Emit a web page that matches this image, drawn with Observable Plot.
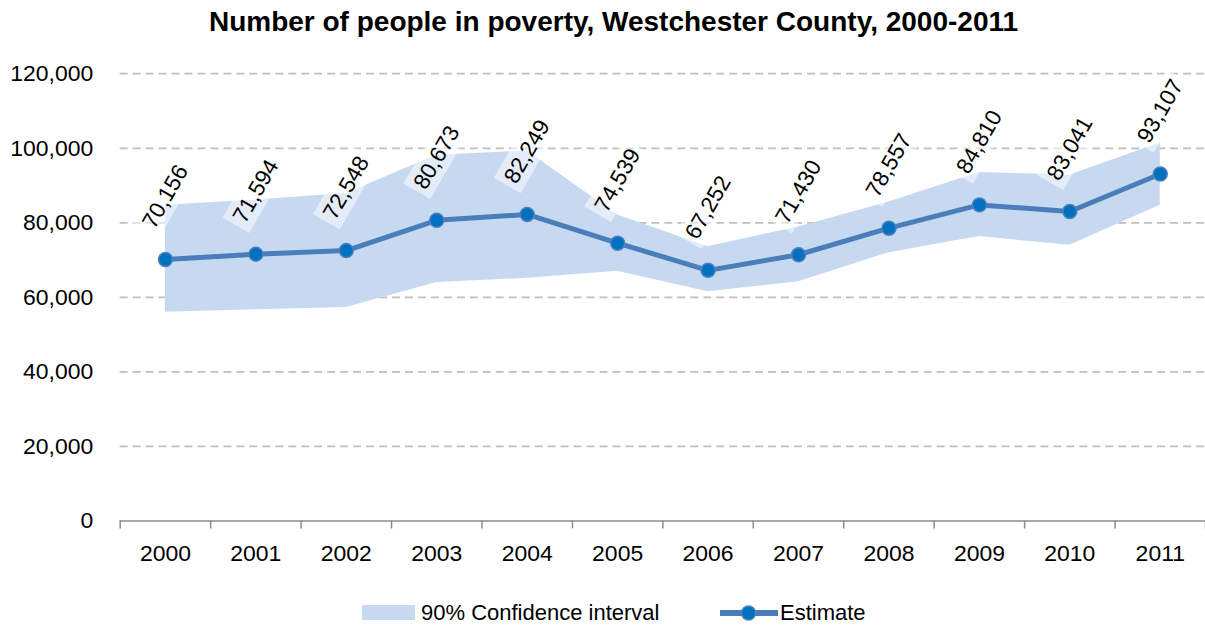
<!DOCTYPE html>
<html><head><meta charset="utf-8">
<script src="https://cdn.jsdelivr.net/npm/d3@7"></script>
<script src="https://cdn.jsdelivr.net/npm/@observablehq/plot@0.6"></script>
<style>
html,body{margin:0;padding:0;background:#fff;overflow:hidden;width:1205px;height:627px;}
body{position:relative;font-family:"Liberation Sans",Arial,sans-serif;color:#000;}
#title{position:absolute;top:0;left:0;width:1205px;padding-left:22px;box-sizing:border-box;height:44px;line-height:44px;text-align:center;font-weight:bold;font-size:28px;white-space:nowrap;}
#chart{position:absolute;top:44px;left:0;}
.leg{position:absolute;font-size:22px;line-height:26px;white-space:nowrap;}
</style></head><body>
<div id="title"></div>
<div id="chart"></div>
<div id="legend"></div>
<script>
const titleText = "Number of people in poverty, Westchester County, 2000-2011";
const years = [2000, 2001, 2002, 2003, 2004, 2005, 2006, 2007, 2008, 2009, 2010, 2011];
const estimate = [70156, 71594, 72548, 80673, 82249, 74539, 67252, 71430, 78557, 84810, 83041, 93107];
const lower = [56000, 56700, 57300, 64000, 65100, 67000, 61500, 64200, 72000, 76300, 74000, 84700];
const upper = [84700, 86100, 87900, 98100, 99300, 82100, 73600, 78900, 85600, 93500, 92800, 101400];
const yTicks = [0, 20000, 40000, 60000, 80000, 100000, 120000];
const seriesNames = ["90% Confidence interval", "Estimate"];

const fmt = d3.format(",");
const data = years.map((year, i) => ({year, estimate: estimate[i], lower: lower[i], upper: upper[i]}));
const bounds = [...years.map(y => y - 0.5), years[years.length - 1] + 0.5];

document.getElementById("title").textContent = titleText;

const bandFill = "#c6d9f0";
const lineColor = "#4a7ebb";
const dotFill = "#0070c0";

const chart = Plot.plot({
  width: 1208,
  height: 541,
  marginLeft: 120,
  marginRight: 0,
  marginTop: 29.3,
  marginBottom: 63.3,
  style: {fontFamily: "'Liberation Sans', Arial, sans-serif", fontSize: "23px", background: "white", color: "black", overflow: "visible"},
  x: {type: "linear", domain: [bounds[0], bounds[bounds.length - 1]], label: null},
  y: {domain: [0, 120000], label: null},
  marks: [
    Plot.gridY(yTicks.filter(d => d > 0), {stroke: "#bfbfbf", strokeOpacity: 1, strokeWidth: 1.8, strokeDasharray: "8,5"}),
    Plot.areaY(data, {x: "year", y1: "lower", y2: "upper", fill: bandFill, fillOpacity: 1}),
    Plot.ruleY([0], {stroke: "#8c8c8c", strokeWidth: 1.5}),
    Plot.axisX(bounds, {tickSize: 8, tickFormat: () => "", stroke: "#8c8c8c", strokeWidth: 1.5, label: null}),
    Plot.axisX(years, {tickSize: 0, tickPadding: 24, tickFormat: d => String(d), fontSize: 23, fill: "black", label: null}),
    Plot.axisY(yTicks, {tickSize: 0, tickPadding: 27, tickFormat: fmt, fontSize: 23, fill: "black", label: null}),
    Plot.line(data, {x: "year", y: "estimate", stroke: lineColor, strokeWidth: 5, strokeLinejoin: "round"}),
    Plot.dot(data, {x: "year", y: "estimate", r: 7, fill: dotFill, stroke: "#4f81bd", strokeWidth: 1.5}),
    Plot.text(data, {x: "year", y: "estimate", text: d => fmt(d.estimate), rotate: -60, dy: -63, fontSize: 22.5, fill: "black"})
  ]
});
document.getElementById("chart").appendChild(chart);

// light boxes behind the data labels
const ns = "http://www.w3.org/2000/svg";
const labelTexts = new Set(estimate.map(fmt));
chart.querySelectorAll('g[aria-label="text"] text').forEach(t => {
  if (!labelTexts.has(t.textContent)) return;
  const b = t.getBBox();
  const r = document.createElementNS(ns, "rect");
  r.setAttribute("x", b.x - 5);
  r.setAttribute("y", b.y - 3);
  r.setAttribute("width", b.width + 10);
  r.setAttribute("height", b.height + 6);
  r.setAttribute("fill", "white");
  r.setAttribute("fill-opacity", "0.5");
  r.setAttribute("stroke", "none");
  const tr = t.getAttribute("transform");
  if (tr) r.setAttribute("transform", tr);
  t.parentNode.insertBefore(r, t);
});

// legend
const legend = document.getElementById("legend");
const sw = document.createElement("div");
sw.className = "leg";
Object.assign(sw.style, {left: "362px", top: "605px", width: "53px", height: "15px", background: bandFill});
legend.appendChild(sw);
const t1 = document.createElement("div");
t1.className = "leg"; t1.textContent = seriesNames[0];
Object.assign(t1.style, {left: "421px", top: "599.5px"});
legend.appendChild(t1);
const icon = document.createElementNS(ns, "svg");
icon.setAttribute("width", "58"); icon.setAttribute("height", "22");
icon.setAttribute("class", "leg");
Object.assign(icon.style, {left: "720px", top: "601.5px"});
icon.innerHTML = `<line x1="1" y1="11" x2="57" y2="11" stroke="${lineColor}" stroke-width="6" stroke-linecap="round"/><circle cx="28.5" cy="11" r="7" fill="${dotFill}" stroke="#4f81bd" stroke-width="1.5"/>`;
legend.appendChild(icon);
const t2 = document.createElement("div");
t2.className = "leg"; t2.textContent = seriesNames[1];
Object.assign(t2.style, {left: "780px", top: "599.5px"});
legend.appendChild(t2);
</script>
</body></html>
